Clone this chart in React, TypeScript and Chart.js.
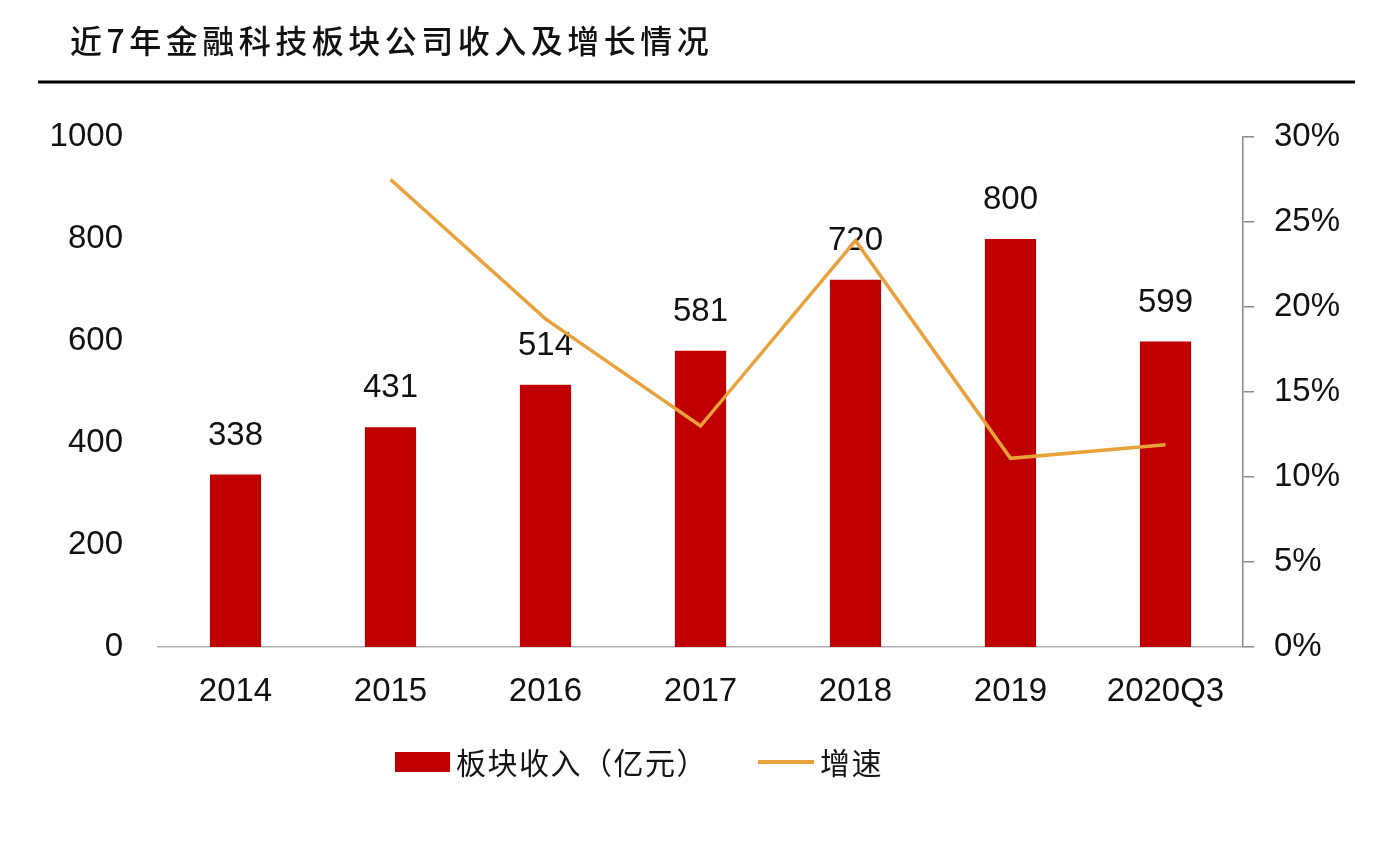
import React, { useEffect, useRef } from "react";
import { Chart, registerables } from "chart.js";

Chart.register(...registerables);

const TITLE = "近7年金融科技板块公司收入及增长情况";
const CATEGORIES = ["2014", "2015", "2016", "2017", "2018", "2019", "2020Q3"];
const REVENUE = [338, 431, 514, 581, 720, 800, 599];
const GROWTH: (number | null)[] = [null, 0.275, 0.193, 0.13, 0.239, 0.111, 0.119];
const SERIES_NAMES = ["板块收入（亿元）", "增速"];

const BAR_COLOR = "#C00000";
const LINE_COLOR = "#E8A23C";
const NUM_FONT = "'Liberation Sans', Arial, sans-serif";
const CJK_FONT = "'Noto Sans CJK SC', sans-serif";

const titlePlugin = {
  id: "titleRule",
  beforeDraw(chart: any) {
    const ctx = chart.ctx;
    ctx.save();
    ctx.fillStyle = "#ffffff";
    ctx.fillRect(0, 0, chart.width, chart.height);
    ctx.fillStyle = "#111111";
    ctx.font = `500 32px ${CJK_FONT}`;
    (ctx as any).letterSpacing = "4.5px";
    ctx.textBaseline = "middle";
    ctx.textAlign = "left";
    ctx.fillText(TITLE, 70, 41);
    (ctx as any).letterSpacing = "0px";
    ctx.strokeStyle = "#000000";
    ctx.lineWidth = 3;
    ctx.beginPath();
    ctx.moveTo(38, 82);
    ctx.lineTo(1355, 82);
    ctx.stroke();
    ctx.restore();
  },
};

const barLabelPlugin = {
  id: "barLabels",
  afterDatasetDraw(chart: any, args: any) {
    if (args.index !== 0) return;
    const ctx = chart.ctx;
    const meta = args.meta;
    const data = chart.data.datasets[0].data;
    ctx.save();
    ctx.fillStyle = "#111111";
    ctx.font = `33px ${NUM_FONT}`;
    ctx.textAlign = "center";
    ctx.textBaseline = "alphabetic";
    meta.data.forEach((el: any, i: number) => {
      ctx.fillText(String(data[i]), el.x, el.y - 30);
    });
    ctx.restore();
  },
};

const legendPlugin = {
  id: "customLegend",
  afterDraw(chart: any) {
    const ctx = chart.ctx;
    const ds = chart.data.datasets;
    const y = 762;
    ctx.save();
    ctx.font = `400 30px ${CJK_FONT}`;
    (ctx as any).letterSpacing = "1.5px";
    ctx.textBaseline = "middle";
    ctx.textAlign = "left";
    let x = 395;
    // bar item
    ctx.fillStyle = ds[0].backgroundColor;
    ctx.fillRect(x, y - 10, 55, 20);
    x += 55 + 6;
    ctx.fillStyle = "#151515";
    ctx.fillText(ds[0].label, x, y + 1);
    x += ctx.measureText(ds[0].label).width + 50;
    // line item
    ctx.strokeStyle = ds[1].borderColor;
    ctx.lineWidth = 4;
    ctx.beginPath();
    ctx.moveTo(x, y);
    ctx.lineTo(x + 56, y);
    ctx.stroke();
    x += 56 + 6;
    ctx.fillStyle = "#151515";
    ctx.fillText(ds[1].label, x, y + 1);
    ctx.restore();
  },
};

export default function App() {
  const canvasRef = useRef<HTMLCanvasElement | null>(null);

  useEffect(() => {
    if (!canvasRef.current) return;
    const chart = new Chart(canvasRef.current, {
      type: "bar",
      data: {
        labels: CATEGORIES,
        datasets: [
          {
            type: "bar",
            label: SERIES_NAMES[0],
            data: REVENUE,
            backgroundColor: BAR_COLOR,
            borderWidth: 0,
            barPercentage: 0.33,
            categoryPercentage: 1,
            yAxisID: "y",
            order: 2,
          } as any,
          {
            type: "line",
            label: SERIES_NAMES[1],
            data: GROWTH,
            borderColor: LINE_COLOR,
            backgroundColor: LINE_COLOR,
            borderWidth: 3.5,
            pointRadius: 0,
            tension: 0,
            fill: false,
            yAxisID: "y1",
            order: 1,
          } as any,
        ],
      },
      options: {
        animation: false,
        responsive: true,
        maintainAspectRatio: false,
        layout: { padding: { top: 137, bottom: 157, left: 0, right: 0 } },
        plugins: {
          legend: { display: false },
          title: { display: false },
          tooltip: { enabled: false },
        },
        scales: {
          x: {
            type: "category",
            offset: true,
            grid: { display: false, drawTicks: false },
            border: { display: true, color: "#b0b0b0", width: 1.5 },
            ticks: {
              color: "#111111",
              font: { family: NUM_FONT, size: 33 },
              padding: 25,
              maxRotation: 0,
              autoSkip: false,
            },
            afterFit: (s: any) => {
              s.height = 60;
            },
          },
          y: {
            position: "left",
            min: 0,
            max: 1000,
            grid: { display: false, drawTicks: false },
            border: { display: false },
            ticks: {
              stepSize: 200,
              color: "#111111",
              font: { family: NUM_FONT, size: 33 },
              padding: 35,
              callback: (v: any) => String(v),
            },
            afterFit: (s: any) => {
              s.width = 158;
            },
          },
          y1: {
            position: "right",
            min: 0,
            max: 0.3,
            grid: {
              display: true,
              drawOnChartArea: false,
              drawTicks: true,
              tickLength: 11,
              color: "#8a8a8a",
              lineWidth: 1.5,
            },
            border: { display: true, color: "#8a8a8a", width: 1.5 },
            ticks: {
              stepSize: 0.05,
              color: "#111111",
              font: { family: NUM_FONT, size: 33 },
              padding: 20,
              callback: (v: any) => `${Math.round(Number(v) * 100)}%`,
            },
            afterFit: (s: any) => {
              s.width = 149;
            },
          },
        },
      } as any,
      plugins: [titlePlugin, barLabelPlugin, legendPlugin],
    });
    return () => chart.destroy();
  }, []);

  return (
    <div style={{ position: "fixed", left: 0, top: 0, width: 1392, height: 864, background: "#fff" }}>
      <canvas ref={canvasRef} />
    </div>
  );
}
